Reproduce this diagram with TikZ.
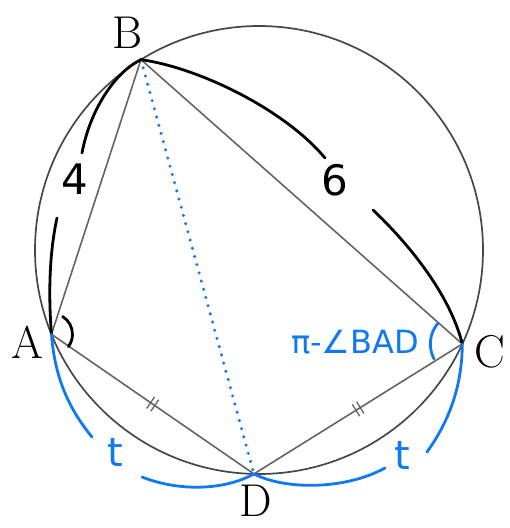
\documentclass[tikz,border=0pt]{standalone}
\usepackage{fontspec}
\usepackage{tikz}
\usetikzlibrary{positioning,calc,decorations.markings}
\newfontfamily\handfont{DejaVu Sans}
\definecolor{handblue}{RGB}{16,120,240}
\definecolor{figgray}{RGB}{100,100,100}

\begin{document}
\begin{tikzpicture}[x=1pt,y=1pt,
  every node/.style={inner sep=0pt},
  vlabel/.style={font=\fontsize{46}{50}\selectfont},
  hand/.style={font=\handfont\fontsize{#1}{#1}\selectfont},
  side/.style={figgray,line width=1.6pt},
  stroke/.style={line width=2.8pt,line cap=round},
  dtick/.style={postaction={decorate,decoration={markings,
    mark=at position 0.5 with {\draw[figgray,line width=1.3pt] (-2.5,-7) -- (-2.5,7) (2.5,-7) -- (2.5,7);}}}}]
\useasboundingbox (0,0) rectangle (510,-528);
\coordinate (O) at (259,-250);
\coordinate (A) at ($(O)+(202.1:224)$);
\coordinate (B) at ($(O)+(121.8:224)$);
\coordinate (C) at ($(O)+(-24.8:224)$);
\coordinate (D) at ($(O)+(-91.3:224)$);
% break points of the hand drawn strokes
\coordinate (ab1) at (57,-218);  \coordinate (ab2) at (82,-153);
\coordinate (bc1) at (325,-158); \coordinate (bc2) at (373,-210);
\coordinate (ad1) at (92,-437);  \coordinate (ad2) at (142,-477);
\coordinate (dc1) at (385,-468); \coordinate (dc2) at (427,-452);

\draw[black!72,line width=1.7pt] (O) circle[radius=224];
\draw[side] (A) -- (B) -- (C);
\draw[side,dtick] (A) -- (D);
\draw[side,dtick] (D) -- (C);
\draw[handblue,line width=3.4pt,line cap=round,dash pattern=on 0pt off 8.5pt] (B) -- (D);

% black: sides 4 and 6
\draw[stroke] (A) .. controls (48,-290) and (50,-250) .. (ab1);
\draw[stroke] (ab2) .. controls (90,-110) and (115,-72) .. (B);
\draw[stroke] (B) .. controls (200,-68) and (285,-110) .. (bc1);
\draw[stroke] (bc2) .. controls (410,-245) and (450,-295) .. (C);
\draw[stroke] ([shift={(58:21)}]A) arc[start angle=58,end angle=-36,radius=21];

% blue: chords t and the angle at C
\draw[stroke,handblue] (A) .. controls (55,-380) and (70,-410) .. (ad1);
\draw[stroke,handblue] (ad2) .. controls (180,-492) and (225,-490) .. (D);
\draw[stroke,handblue] (D) .. controls (285,-490) and (345,-490) .. (dc1);
\draw[stroke,handblue] (dc2) .. controls (450,-420) and (462,-385) .. (C);
\draw[stroke,handblue] ([shift={(140:32)}]C) arc[start angle=140,end angle=208,radius=32];

\node[vlabel] (lA) at (27,-342) {A};
\node[vlabel] (lB) at (128,-33) {B};
\node[vlabel] (lC) at (490,-352) {C};
\node[vlabel] (lD) at (256,-501) {D};
\node[hand=42] (four) at (75,-179) {4};
\node[hand=42] (six) at (335,-180) {6};
\node[hand=40,text=handblue] (tl) at (115,-452) {t};
\node[hand=40,text=handblue] (tr) at (402,-455) {t};
\node[hand=32,text=handblue] (ang) at (355,-342) {π-∠BAD};
\end{tikzpicture}
\end{document}
